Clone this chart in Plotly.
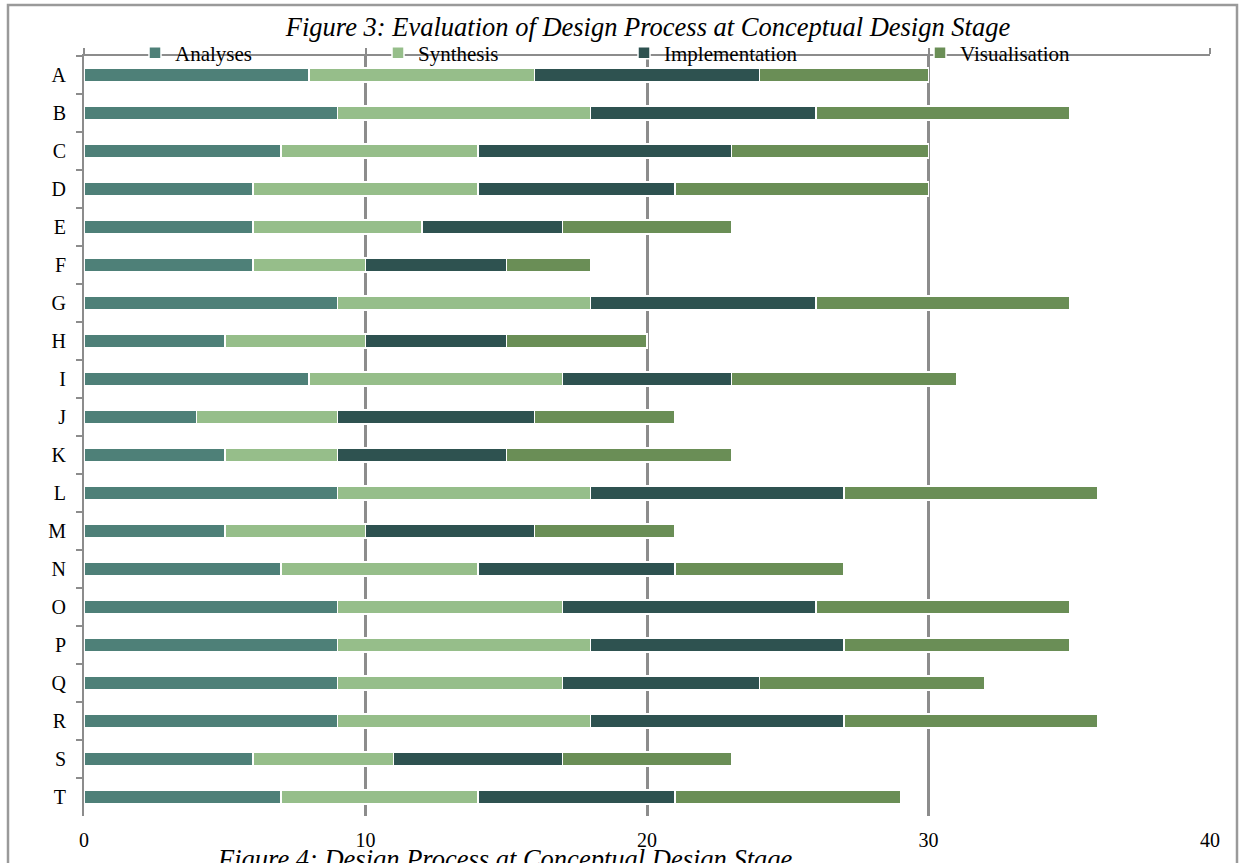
import plotly.graph_objects as go

# Scores for each participant across the four design-process criteria
participants = list("ABCDEFGHIJKLMNOPQRST")
analyses       = [8, 9, 7, 6, 6, 6, 9, 5, 8, 4, 5, 9, 5, 7, 9, 9, 9, 9, 6, 7]
synthesis      = [8, 9, 7, 8, 6, 4, 9, 5, 9, 5, 4, 9, 5, 7, 8, 9, 8, 9, 5, 7]
implementation = [8, 8, 9, 7, 5, 5, 8, 5, 6, 7, 6, 9, 6, 7, 9, 9, 7, 9, 6, 7]
visualisation  = [6, 9, 7, 9, 6, 3, 9, 5, 8, 5, 8, 9, 5, 6, 9, 8, 8, 9, 6, 8]

x_ticks = [0, 10, 20, 30, 40]

series = [
    ("Analyses", analyses, "#4E8078", "legend"),
    ("Synthesis", synthesis, "#96BE8A", "legend2"),
    ("Implementation", implementation, "#2E5250", "legend3"),
    ("Visualisation", visualisation, "#6A8E56", "legend4"),
]

FONT = "Liberation Serif"
GRID = "#8C8C8C"

fig = go.Figure()
for name, vals, color, leg in series:
    fig.add_trace(go.Bar(
        name=name, y=participants, x=vals, orientation="h",
        marker=dict(color=color, line=dict(color="white", width=1.5)),
        legend=leg, showlegend=True,
    ))

# empty trace that carries the bottom tick-label axis
fig.add_trace(go.Scatter(x=[], y=[], xaxis="x2", showlegend=False))

# plot area in pixels: x 84..1210, y 56..816
L, R, T, B = 84, 1210, 56, 816
W, H = R - L, B - T

def px_x(p):
    return (p - L) / W

def px_y(p):
    return (B - p) / H

legend_centres = [160, 403, 649, 945]
legend_common = dict(
    orientation="h", yanchor="middle", xanchor="left",
    bgcolor="rgba(0,0,0,0)", font=dict(family=FONT, size=21, color="black"),
    borderwidth=0,
)
legends = {}
for i, cx in enumerate(legend_centres):
    key = "legend" if i == 0 else f"legend{i+1}"
    legends[key] = dict(legend_common, x=px_x(cx - 25), y=px_y(53))

fig.update_layout(
    width=1242, height=863,
    margin=dict(l=L, r=1242 - R, t=T, b=863 - B),
    paper_bgcolor="white", plot_bgcolor="white",
    barmode="stack", bargap=0.63, showlegend=True,
    font=dict(family=FONT, size=20, color="black"),
    title=dict(
        text="<i>Figure 3: Evaluation of Design Process at Conceptual Design Stage</i>",
        font=dict(family=FONT, size=26.5, color="black"),
        x=px_x(648), xanchor="center", xref="paper",
        y=1 - 27 / 863, yanchor="middle", yref="container",
    ),
    xaxis=dict(
        range=[0, 40], side="top", tickvals=x_ticks, showticklabels=False,
        showline=True, linecolor=GRID, linewidth=2,
        ticks="outside", ticklen=6, tickcolor=GRID, tickwidth=2,
        showgrid=True, gridcolor=GRID, gridwidth=2.5, zeroline=False,
    ),
    xaxis2=dict(
        range=[0, 40], overlaying="x", side="bottom", tickvals=x_ticks,
        showline=False, showgrid=False, zeroline=False, ticks="",
        ticklabelstandoff=10,
        tickfont=dict(family=FONT, size=20, color="black"),
    ),
    yaxis=dict(
        categoryorder="array", categoryarray=participants, autorange="reversed",
        showline=True, linecolor=GRID, linewidth=2,
        ticks="outside", tickson="boundaries", ticklen=6, tickcolor=GRID, tickwidth=2,
        ticklabelstandoff=12,
        showgrid=False, tickfont=dict(family=FONT, size=20, color="black"),
    ),
    annotations=[dict(
        text="<i>Figure 4: Design Process at Conceptual Design Stage</i>",
        xref="paper", yref="paper", x=px_x(505), y=px_y(859),
        xanchor="center", yanchor="middle", showarrow=False,
        font=dict(family=FONT, size=26.5, color="black"),
    )],
    shapes=[dict(
        type="rect", xref="paper", yref="paper", layer="below",
        x0=px_x(8), x1=px_x(1237), y0=px_y(900), y1=px_y(5),
        line=dict(color="#9A9A9A", width=2.5), fillcolor="rgba(0,0,0,0)",
    )],
    **legends,
)

fig.write_html("out.html")
